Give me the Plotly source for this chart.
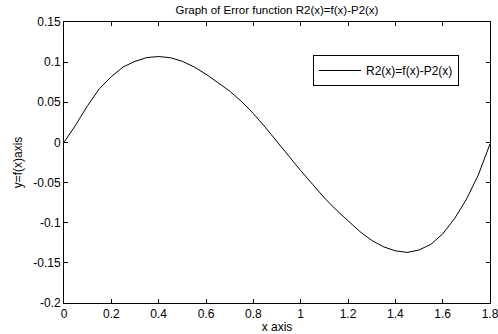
import plotly.graph_objects as go

x_vals = [round(i * 0.05, 2) for i in range(37)]
r2_vals = [0.0, 0.022, 0.046, 0.067, 0.082, 0.094, 0.101, 0.1057, 0.107, 0.1055,
           0.101, 0.094, 0.085, 0.075, 0.064, 0.051, 0.036, 0.019, 0.001, -0.018,
           -0.035, -0.052, -0.069, -0.084, -0.098, -0.111, -0.122, -0.130, -0.135,
           -0.137, -0.134, -0.127, -0.114, -0.095, -0.071, -0.041, -0.002]

x_ticks = [0, 0.2, 0.4, 0.6, 0.8, 1, 1.2, 1.4, 1.6, 1.8]
x_tick_text = ["0", "0.2", "0.4", "0.6", "0.8", "1", "1.2", "1.4", "1.6", "1.8"]
y_ticks = [-0.2, -0.15, -0.1, -0.05, 0, 0.05, 0.1, 0.15]
y_tick_text = ["-0.2", "-0.15", "-0.1", "-0.05", "0", "0.05", "0.1", "0.15"]

font_family = "Liberation Sans, Arial, sans-serif"

fig = go.Figure()
fig.add_trace(go.Scatter(x=x_vals, y=r2_vals, mode="lines",
                         line=dict(color="black", width=1),
                         name="R2(x)=f(x)-P2(x)"))

fig.update_layout(
    width=498, height=334,
    margin=dict(l=64, r=8, t=22, b=31),
    paper_bgcolor="white", plot_bgcolor="white",
    font=dict(family=font_family, size=12, color="black"),
    title=dict(text="Graph of Error function R2(x)=f(x)-P2(x)",
               x=277 / 498, xanchor="center", y=1 - 10 / 334, yanchor="middle",
               font=dict(size=11.5)),
    showlegend=True,
    legend=dict(x=0.5845, y=(303 - 70.5) / 281, xanchor="left", yanchor="middle",
                bordercolor="black", borderwidth=1, bgcolor="white",
                font=dict(size=12), itemwidth=42, tracegroupgap=0),
)
fig.update_xaxes(range=[0, 1.8], tickvals=x_ticks, ticktext=x_tick_text,
                 showgrid=False, zeroline=False, showline=True, linecolor="black",
                 linewidth=1, mirror="ticks", ticks="inside", ticklen=4,
                 tickcolor="black", automargin=False, tickfont=dict(size=12),
                 ticklabeloverflow="allow",
                 title=dict(text="x axis", standoff=2, font=dict(size=12)))
fig.update_yaxes(range=[-0.2, 0.15], tickvals=y_ticks, ticktext=y_tick_text,
                 showgrid=False, zeroline=False, showline=True, linecolor="black",
                 linewidth=1, mirror="ticks", ticks="inside", ticklen=4,
                 tickcolor="black", automargin=False, tickfont=dict(size=12),
                 ticklabeloverflow="allow",
                 title=dict(text="y=f(x)axis", standoff=8, font=dict(size=12)))

fig.write_html("out.html", config={"displayModeBar": False},
               post_script="document.body.style.margin='0px';")
